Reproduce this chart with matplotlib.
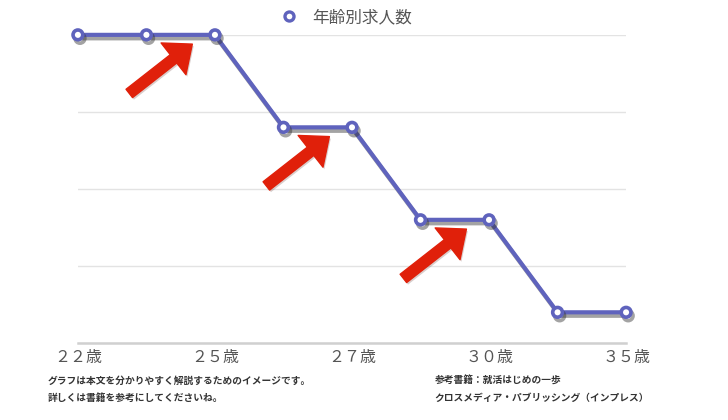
import matplotlib
matplotlib.use('Agg')
import matplotlib.pyplot as plt
import matplotlib.patheffects as pe
from matplotlib.lines import Line2D

plt.rcParams['font.family'] = ['Noto Sans CJK JP', 'DejaVu Sans']

# data
ages = ['２２歳', '２３歳', '２５歳', '２６歳', '２７歳', '２８歳', '３０歳', '３３歳', '３５歳']
shown_labels = ['２２歳', '', '２５歳', '', '２７歳', '', '３０歳', '', '３５歳']
job_counts = [100, 100, 100, 70, 70, 40, 40, 10, 10]
series_name = '年齢別求人数'

# start index of each flat part that gets a red arrow
arrow_plateaus = [1, 3, 5]

line_color = '#5f63bd'

fig = plt.figure(figsize=(7.28, 4.2), dpi=100)
ax = fig.add_axes([0.107, 0.183, 0.753, 0.734])

x = list(range(len(ages)))
shadow = [pe.SimpleLineShadow(offset=(1.5, -2.5), shadow_color='#333333', alpha=0.45), pe.Normal()]
ax.plot(x, job_counts, color=line_color, lw=3, marker='o', ms=7, mfc='white',
        mec=line_color, mew=2.6, clip_on=False, zorder=5, path_effects=shadow)

ax.set_xlim(0, len(ages) - 1)
ax.set_ylim(0, 100)
ax.set_yticks([0, 25, 50, 75, 100])
ax.yaxis.grid(True, color='#e3e3e3', lw=1)
ax.set_axisbelow(True)
ax.tick_params(axis='y', left=False, labelleft=False)
ax.set_xticks(x)
ax.set_xticklabels(shown_labels, fontsize=11.5, color='#555555')
ax.tick_params(axis='x', length=0, pad=4)
for s in ['top', 'right', 'left']:
    ax.spines[s].set_visible(False)
ax.spines['bottom'].set_color('#d0d0d0')
ax.spines['bottom'].set_linewidth(1.8)

# red arrows
for i in arrow_plateaus:
    v = job_counts[i]
    ax.annotate('', xy=(i + 0.67, v - 3), xytext=(i - 0.25, v - 19),
                arrowprops=dict(arrowstyle='simple,head_length=0.86,head_width=1.45,tail_width=0.38',
                                mutation_scale=20, color='#e0200a', shrinkA=0, shrinkB=0,
                                path_effects=[pe.SimplePatchShadow(offset=(1, -1.5), alpha=0.2), pe.Normal()]),
                zorder=6, annotation_clip=False)

# legend
handle = Line2D([], [], ls='none', marker='o', ms=6.5, mfc='white', mec=line_color, mew=2.4)
fig.legend([handle], [series_name], loc='center', bbox_to_anchor=(0.47, 0.958),
           frameon=False, fontsize=12, handletextpad=0.4, labelcolor='#555555')

# notes
note_kw = dict(fontsize=7, color='#333333', weight='bold')
fig.text(0.065, 0.093, 'グラフは本文を分かりやすく解説するためのイメージです。', va='center', **note_kw)
fig.text(0.065, 0.052, '詳しくは書籍を参考にしてくださいね。', va='center', **note_kw)
fig.text(0.597, 0.093, '参考書籍：就活はじめの一歩', va='center', **note_kw)
fig.text(0.597, 0.052, 'クロスメディア・パブリッシング（インプレス）', va='center', **note_kw)

fig.savefig('out.png', dpi=100, facecolor='white')
